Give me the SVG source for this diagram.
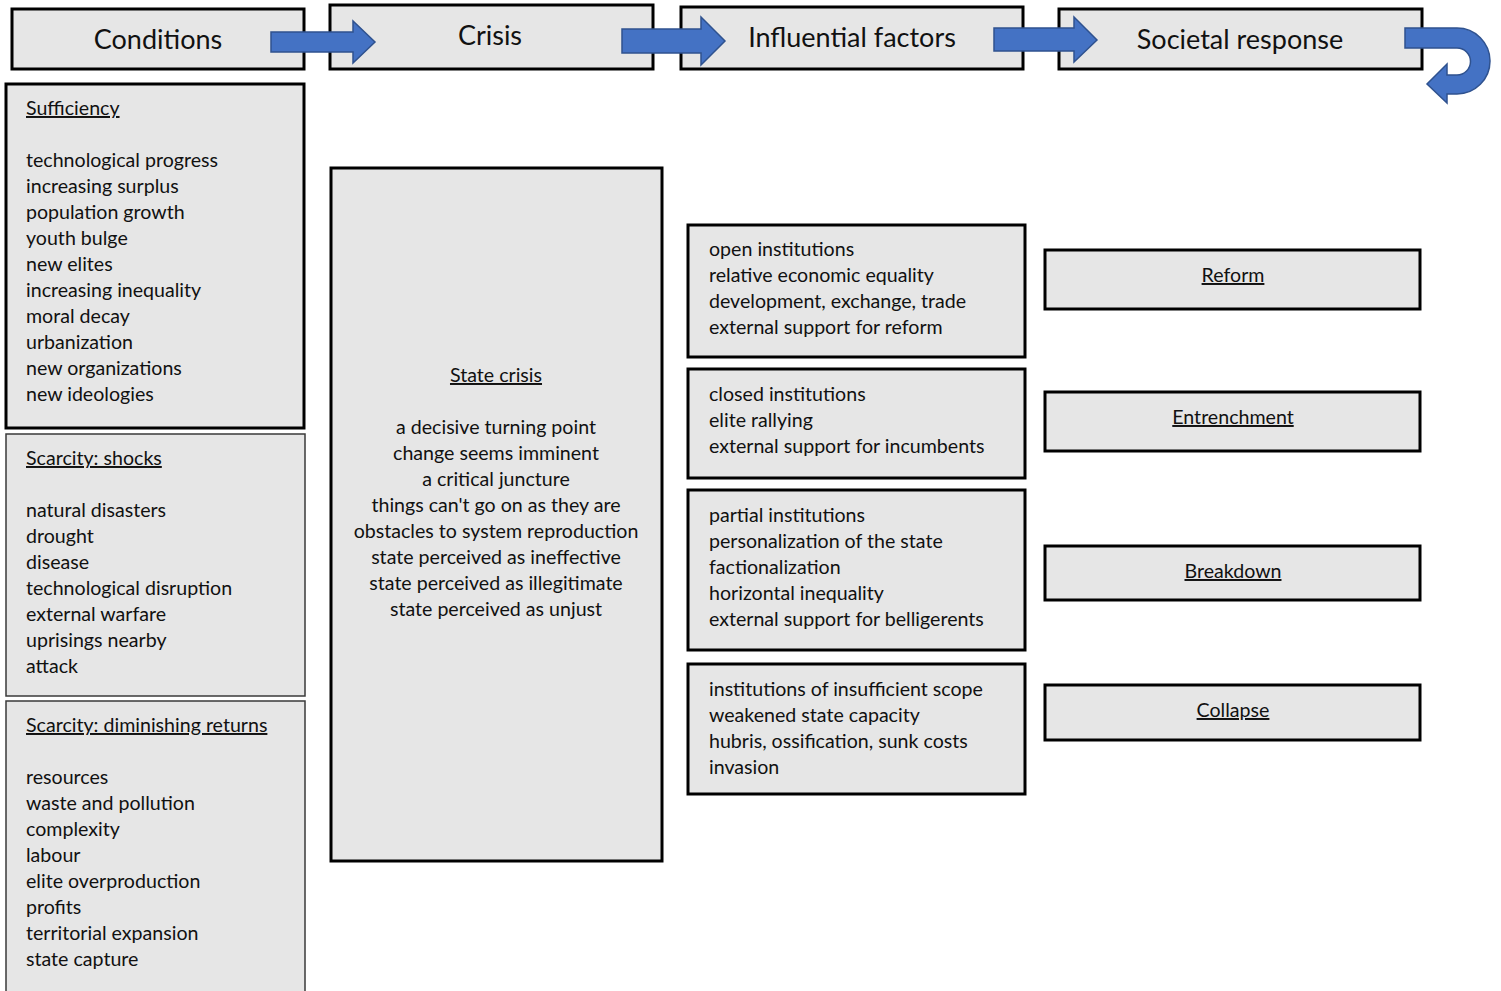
<svg xmlns="http://www.w3.org/2000/svg" width="1501" height="991" viewBox="0 0 1501 991">
<defs>
<style>
.box{fill:#e6e6e6;stroke:#000;stroke-width:3}
.thin{fill:#e6e6e6;stroke:#3a3a3a;stroke-width:1.5}
.hdr{font-family:Lato,"Liberation Sans",sans-serif;font-size:27px;fill:#111}
.t{font-family:Lato,"Liberation Sans",sans-serif;font-size:19.6px;fill:#111}
.c{text-anchor:middle}
.u{text-decoration:underline}
.arrow{fill:#4472c4;stroke:#2f528f;stroke-width:1.5}
</style>
</defs>
<rect width="1501" height="991" fill="#fff"/>

<g id="hdr-conditions">
<rect class="box" x="12" y="9" width="292" height="60"/>
<text class="hdr c" x="158" y="49">Conditions</text>
</g>
<g id="hdr-crisis">
<rect class="box" x="330" y="5" width="323" height="64"/>
<text class="hdr c" x="490" y="45">Crisis</text>
</g>
<g id="hdr-influential">
<rect class="box" x="681" y="7" width="342" height="62"/>
<text class="hdr c" x="852" y="47">Influential factors</text>
</g>
<g id="hdr-response">
<rect class="box" x="1059" y="9" width="363" height="60"/>
<text class="hdr c" x="1240" y="49">Societal response</text>
</g>

<g id="sufficiency">
<rect class="box" x="6" y="84" width="298" height="344"/>
<text class="t" x="26" y="115"><tspan class="u">Sufficiency</tspan><tspan x="26" dy="52">technological progress</tspan><tspan x="26" dy="26">increasing surplus</tspan><tspan x="26" dy="26">population growth</tspan><tspan x="26" dy="26">youth bulge</tspan><tspan x="26" dy="26">new elites</tspan><tspan x="26" dy="26">increasing inequality</tspan><tspan x="26" dy="26">moral decay</tspan><tspan x="26" dy="26">urbanization</tspan><tspan x="26" dy="26">new organizations</tspan><tspan x="26" dy="26">new ideologies</tspan></text>
</g>
<g id="shocks">
<rect class="thin" x="6" y="434" width="299" height="262"/>
<text class="t" x="26" y="465"><tspan class="u">Scarcity: shocks</tspan><tspan x="26" dy="52">natural disasters</tspan><tspan x="26" dy="26">drought</tspan><tspan x="26" dy="26">disease</tspan><tspan x="26" dy="26">technological disruption</tspan><tspan x="26" dy="26">external warfare</tspan><tspan x="26" dy="26">uprisings nearby</tspan><tspan x="26" dy="26">attack</tspan></text>
</g>
<g id="diminishing">
<rect class="thin" x="6" y="701" width="299" height="300"/>
<text class="t" x="26" y="732"><tspan class="u">Scarcity: diminishing returns</tspan><tspan x="26" dy="52">resources</tspan><tspan x="26" dy="26">waste and pollution</tspan><tspan x="26" dy="26">complexity</tspan><tspan x="26" dy="26">labour</tspan><tspan x="26" dy="26">elite overproduction</tspan><tspan x="26" dy="26">profits</tspan><tspan x="26" dy="26">territorial expansion</tspan><tspan x="26" dy="26">state capture</tspan></text>
</g>

<g id="state-crisis">
<rect class="box" x="331" y="168" width="331" height="693"/>
<text class="t c" x="496" y="382"><tspan class="u">State crisis</tspan><tspan x="496" dy="52">a decisive turning point</tspan><tspan x="496" dy="26">change seems imminent</tspan><tspan x="496" dy="26">a critical juncture</tspan><tspan x="496" dy="26">things can't go on as they are</tspan><tspan x="496" dy="26">obstacles to system reproduction</tspan><tspan x="496" dy="26">state perceived as ineffective</tspan><tspan x="496" dy="26">state perceived as illegitimate</tspan><tspan x="496" dy="26">state perceived as unjust</tspan></text>
</g>

<g id="factors-open">
<rect class="box" x="688" y="225" width="337" height="132"/>
<text class="t" x="709" y="256"><tspan>open institutions</tspan><tspan x="709" dy="26">relative economic equality</tspan><tspan x="709" dy="26">development, exchange, trade</tspan><tspan x="709" dy="26">external support for reform</tspan></text>
</g>
<g id="factors-closed">
<rect class="box" x="688" y="369" width="337" height="109"/>
<text class="t" x="709" y="401"><tspan>closed institutions</tspan><tspan x="709" dy="26">elite rallying</tspan><tspan x="709" dy="26">external support for incumbents</tspan></text>
</g>
<g id="factors-partial">
<rect class="box" x="688" y="490" width="337" height="160"/>
<text class="t" x="709" y="522"><tspan>partial institutions</tspan><tspan x="709" dy="26">personalization of the state</tspan><tspan x="709" dy="26">factionalization</tspan><tspan x="709" dy="26">horizontal inequality</tspan><tspan x="709" dy="26">external support for belligerents</tspan></text>
</g>
<g id="factors-insufficient">
<rect class="box" x="688" y="664" width="337" height="130"/>
<text class="t" x="709" y="696"><tspan>institutions of insufficient scope</tspan><tspan x="709" dy="26">weakened state capacity</tspan><tspan x="709" dy="26">hubris, ossification, sunk costs</tspan><tspan x="709" dy="26">invasion</tspan></text>
</g>

<g id="reform">
<rect class="box" x="1045" y="250" width="375" height="59"/>
<text class="t c u" x="1233" y="282">Reform</text>
</g>
<g id="entrenchment">
<rect class="box" x="1045" y="392" width="375" height="59"/>
<text class="t c u" x="1233" y="424">Entrenchment</text>
</g>
<g id="breakdown">
<rect class="box" x="1045" y="546" width="375" height="54"/>
<text class="t c u" x="1233" y="578">Breakdown</text>
</g>
<g id="collapse">
<rect class="box" x="1045" y="685" width="375" height="55"/>
<text class="t c u" x="1233" y="717">Collapse</text>
</g>

<g id="connectors">
<path class="arrow" d="M271,32 L353,32 L353,21 L375,42 L353,63 L353,52 L271,52 Z"/>
<path class="arrow" d="M622,29 L701,29 L701,17 L725,41 L701,65 L701,53 L622,53 Z"/>
<path class="arrow" d="M994,28 L1074,28 L1074,17 L1097,40 L1074,62 L1074,51 L994,51 Z"/>
<path class="arrow" d="M1405,28 L1457,28 A33,33 0 0 1 1457,94 L1447,94 L1447,103 L1427,84 L1447,64 L1447,75 L1457,75 A13.5,13.5 0 0 0 1457,48 L1405,48 Z"/>
</g>
</svg>
